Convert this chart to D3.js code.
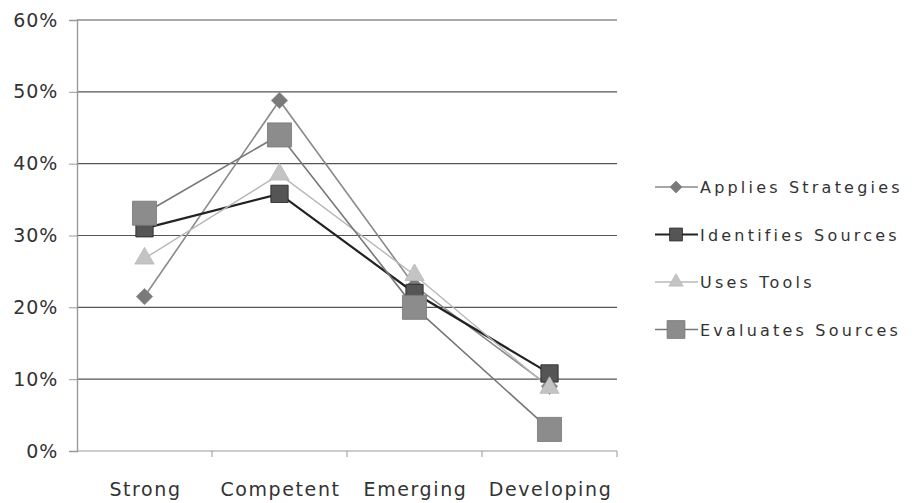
<!DOCTYPE html>
<html>
<head>
<meta charset="utf-8">
<script src="https://cdn.jsdelivr.net/npm/d3@7"></script>
<style>
  html, body { margin: 0; padding: 0; background: #fff; }
  svg { display: block; }
  text { font-family: "DejaVu Sans", sans-serif; fill: #333; }
</style>
</head>
<body>
<svg id="chart" width="918" height="503"></svg>
<script>
// Rubric levels on the x axis
const categories = ["Strong", "Competent", "Emerging", "Developing"];

// Share of students at each level, per skill (fractions)
const appliesStrategies = [0.215, 0.488, 0.230, 0.090];
const identifiesSources = [0.310, 0.358, 0.220, 0.108];
const usesTools        = [0.268, 0.385, 0.245, 0.088];
const evaluatesSources = [0.331, 0.440, 0.200, 0.030];

const yTicks = [0, 0.1, 0.2, 0.3, 0.4, 0.5, 0.6];

const series = [
  { name: "Applies Strategies", values: appliesStrategies, line: "#8a8a8a", fill: "#7a7a7a", width: 1.6, marker: "diamond", size: 170 },
  { name: "Identifies Sources", values: identifiesSources, line: "#222", fill: "#555", width: 2.2, marker: "square", size: 300 },
  { name: "Uses Tools",         values: usesTools,        line: "#b8b8b8", fill: "#c4c4c4", width: 1.4, marker: "triangle", size: 160 },
  { name: "Evaluates Sources",  values: evaluatesSources, line: "#777", fill: "#8c8c8c", width: 1.6, marker: "square", size: 580 }
];

const svg = d3.select("#chart");
const m = { left: 77, right: 301, top: 20, bottom: 52 };
const W = 918, H = 503;

const x = d3.scaleBand().domain(categories).range([m.left, W - m.right]);
const y = d3.scaleLinear().domain([0, 0.6]).range([H - m.bottom, m.top]);

// horizontal gridlines
svg.append("g")
  .selectAll("line").data(yTicks.filter(d => d > 0)).join("line")
  .attr("x1", m.left).attr("x2", W - m.right)
  .attr("y1", d => y(d)).attr("y2", d => y(d))
  .attr("stroke", "#555").attr("stroke-width", 1.2);

// y axis
const yAxis = svg.append("g").attr("transform", `translate(${m.left},0)`)
  .call(d3.axisLeft(y).tickValues(yTicks).tickFormat(d3.format(".0%")).tickSize(8).tickPadding(11));
yAxis.select(".domain").attr("stroke", "#999").attr("stroke-width", 1.4);
yAxis.selectAll(".tick line").attr("stroke", "#999");
yAxis.selectAll("text").attr("font-size", 19).attr("letter-spacing", 0.8)
  .attr("fill", "#444").style("font-family", "DejaVu Sans, sans-serif");

// x axis with ticks between categories
const xAxisG = svg.append("g").attr("transform", `translate(0,${y(0)})`);
xAxisG.append("line").attr("x1", m.left).attr("x2", W - m.right)
  .attr("stroke", "#999").attr("stroke-width", 1.2);
const bounds = categories.map(c => x(c)).concat([x(categories[categories.length - 1]) + x.bandwidth()]);
xAxisG.selectAll(".sep").data(bounds.slice(1)).join("line")
  .attr("x1", d => d).attr("x2", d => d).attr("y1", 0).attr("y2", 6)
  .attr("stroke", "#999");
xAxisG.selectAll("text").data(categories).join("text")
  .attr("x", d => x(d) + x.bandwidth() / 2 + 1)
  .attr("y", 45)
  .attr("text-anchor", "middle")
  .attr("font-size", 19)
  .attr("letter-spacing", 1.6)
  .attr("fill", "#444")
  .text(d => d);

const symbolType = { diamond: d3.symbolDiamond2, square: d3.symbolSquare, triangle: d3.symbolTriangle };
const cx = c => x(c) + x.bandwidth() / 2;

const line = d3.line().x((d, i) => cx(categories[i])).y(d => y(d));

series.forEach(s => {
  svg.append("path").datum(s.values)
    .attr("d", line)
    .attr("fill", "none")
    .attr("stroke", s.line)
    .attr("stroke-width", s.width);
});
series.forEach(s => {
  svg.append("g").selectAll("path").data(s.values).join("path")
    .attr("transform", (d, i) => `translate(${cx(categories[i])},${y(d)})`)
    .attr("d", d3.symbol().type(symbolType[s.marker]).size(s.size))
    .attr("fill", s.fill)
    .attr("stroke", s.line)
    .attr("stroke-width", 0.8);
});

// legend
const legend = svg.append("g").attr("transform", "translate(655,187)");
series.forEach((s, i) => {
  const g = legend.append("g").attr("transform", `translate(0,${i * 47.5})`);
  g.append("line").attr("x1", 0).attr("x2", 43).attr("y1", 0).attr("y2", 0)
    .attr("stroke", s.line).attr("stroke-width", s.width);
  g.append("path").attr("transform", "translate(21,0)")
    .attr("d", d3.symbol().type(symbolType[s.marker]).size(s.size * 0.55))
    .attr("fill", s.fill).attr("stroke", s.line).attr("stroke-width", 0.8);
  g.append("text").attr("x", 45).attr("y", 6)
    .attr("font-size", 16).attr("fill", "#444").attr("letter-spacing", 3.2)
    .text(s.name);
});
</script>
</body>
</html>
